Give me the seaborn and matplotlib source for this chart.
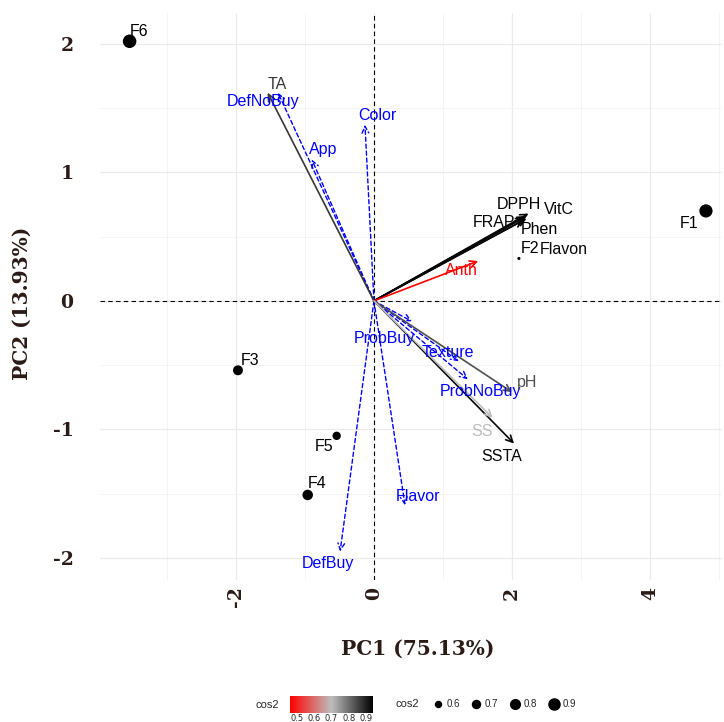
import numpy as np
import pandas as pd
import matplotlib
matplotlib.use("Agg")
import matplotlib.pyplot as plt
from matplotlib.colors import LinearSegmentedColormap, Normalize
from matplotlib.cm import ScalarMappable
from matplotlib.lines import Line2D
import seaborn as sns

# individuals (coordinates on PC1 / PC2 and quality of representation)
ind_names = ["F1", "F2", "F3", "F4", "F5", "F6"]
ind_pc1 = [4.81, 2.10, -1.97, -0.96, -0.54, -3.54]
ind_pc2 = [0.70, 0.33, -0.54, -1.51, -1.05, 2.02]
ind_cos2 = [0.91, 0.50, 0.72, 0.75, 0.65, 0.93]

# active variables
var_names = ["DPPH", "VitC", "FRAP", "Phen", "Flavon", "Anth", "TA", "pH", "SSTA", "SS"]
var_pc1 = [2.20, 2.24, 2.18, 2.21, 2.17, 1.51, -1.54, 2.00, 2.03, 1.72]
var_pc2 = [0.66, 0.68, 0.65, 0.64, 0.63, 0.31, 1.62, -0.71, -1.11, -0.91]
var_cos2 = [0.94, 0.93, 0.93, 0.94, 0.93, 0.46, 0.87, 0.84, 0.93, 0.70]

# supplementary variables
sup_names = ["DefNoBuy", "App", "Color", "ProbBuy", "Texture", "ProbNoBuy", "Flavor", "DefBuy"]
sup_pc1 = [-1.39, -0.90, -0.13, 0.55, 1.23, 1.36, 0.45, -0.49]
sup_pc2 = [1.62, 1.10, 1.37, -0.16, -0.47, -0.61, -1.59, -1.95]

# label offsets (points) mimicking the repelled labels
ind_off = {"F1": (-12, -9), "F2": (8, 7), "F3": (9, 7), "F4": (7, 8), "F5": (-9, -8), "F6": (7, 7)}
var_off = {"DPPH": (-5, 8), "VitC": (22, 3), "FRAP": (-22, -4), "Phen": (9, -8), "Flavon": (29, -21),
           "Anth": (-12, -7), "TA": (7, 6), "pH": (11, 7), "SSTA": (-9, -9), "SS": (-8, -10)}
sup_off = {"DefNoBuy": (-11, -6), "App": (8, 7), "Color": (9, 7), "ProbBuy": (-20, -12),
           "Texture": (-8, 6), "ProbNoBuy": (9, -9), "Flavor": (9, 6), "DefBuy": (-9, -9)}

sns.set_theme(style="whitegrid")
serif = {"family": "DejaVu Serif", "weight": "bold", "color": "#2b1b17"}
sans = "Liberation Sans"
lab_size = 11.5

cmap = LinearSegmentedColormap.from_list("cos2", ["#ff0000", "#bebebe", "#000000"])
norm = Normalize(0.46, 0.94)
size_range = (5, 95)
size_norm = (0.5, 0.93)

def size_of(c):
    t = (c - size_norm[0]) / (size_norm[1] - size_norm[0])
    return size_range[0] + t * (size_range[1] - size_range[0])

fig = plt.figure(figsize=(7.24, 7.22), dpi=100)
ax = fig.add_axes([0.138, 0.197, 0.859, 0.785])

ind = pd.DataFrame({"name": ind_names, "PC1": ind_pc1, "PC2": ind_pc2, "cos2": ind_cos2})
sns.scatterplot(data=ind, x="PC1", y="PC2", size="cos2", sizes=size_range, size_norm=size_norm,
                color="black", edgecolor="none", legend=False, ax=ax, zorder=4)
for _, r in ind.iterrows():
    ax.annotate(r["name"], (r["PC1"], r["PC2"]), xytext=ind_off[r["name"]], textcoords="offset points",
                ha="center", va="center", fontsize=lab_size, family=sans, color="black", zorder=5)

ax.axhline(0, color="black", ls=(0, (4, 3)), lw=0.8, zorder=1)
ax.axvline(0, color="black", ls=(0, (4, 3)), lw=0.8, zorder=1)

for n, x, y in zip(sup_names, sup_pc1, sup_pc2):
    ax.annotate("", xy=(x, y), xytext=(0, 0),
                arrowprops=dict(arrowstyle="->,head_length=0.4,head_width=0.2", color="#0000ff",
                                lw=1.0, ls=(0, (3, 2)), shrinkA=0, shrinkB=0), zorder=2)
    ax.annotate(n, (x, y), xytext=sup_off[n], textcoords="offset points", ha="center", va="center",
                fontsize=lab_size, family=sans, color="#0000ff", zorder=5)

for n, x, y, c in zip(var_names, var_pc1, var_pc2, var_cos2):
    col = cmap(norm(c))
    ax.annotate("", xy=(x, y), xytext=(0, 0),
                arrowprops=dict(arrowstyle="->,head_length=0.4,head_width=0.2", color=col,
                                lw=1.2, shrinkA=0, shrinkB=0), zorder=3)
    ax.annotate(n, (x, y), xytext=var_off[n], textcoords="offset points", ha="center", va="center",
                fontsize=lab_size, family=sans, color=col, zorder=5)

ax.set_xlim(-3.97, 5.04)
ax.set_ylim(-2.17, 2.24)
ax.set_xticks([-2, 0, 2, 4])
ax.set_yticks([-2, -1, 0, 1, 2])
ax.set_xticks([-3, -1, 1, 3, 5], minor=True)
ax.set_yticks([-1.5, -0.5, 0.5, 1.5], minor=True)
ax.grid(which="major", color="#ebebeb", lw=0.9)
ax.grid(which="minor", color="#f3f3f3", lw=0.6)
for s in ax.spines.values():
    s.set_visible(False)
ax.tick_params(which="major", length=3, width=0.6, color="#555555")
ax.tick_params(axis="y", pad=16)
ax.tick_params(axis="x", pad=2)
ax.tick_params(which="minor", length=0)
ax.set_xticklabels(["-2", "0", "2", "4"], rotation=90, fontdict={**serif, "size": 13.5})
ax.set_yticklabels(["-2", "-1", "0", "1", "2"], fontdict={**serif, "size": 13.5})

ax.set_xlabel("PC1 (75.13%)", fontdict={**serif, "size": 14.5})
ax.set_ylabel("PC2 (13.93%)", fontdict={**serif, "size": 14.5})
ax.xaxis.set_label_coords(0.511, -0.105)
ax.yaxis.set_label_coords(-0.11, 0.487)

# colour legend
cax = fig.add_axes([290 / 724, 1 - 713 / 722, 83 / 724, 17 / 722])
cb = fig.colorbar(ScalarMappable(norm=norm, cmap=cmap), cax=cax, orientation="horizontal")
cb.set_ticks([0.5, 0.6, 0.7, 0.8, 0.9])
cb.ax.tick_params(labelsize=6, length=0, pad=1)
cb.outline.set_visible(False)
fig.text(255 / 724, 1 - 705 / 722, "cos2", fontsize=8, family=sans, va="center")

# size legend
levels = [0.6, 0.7, 0.8, 0.9]
handles = [Line2D([], [], ls="", marker="o", color="black", markersize=0.85 * np.sqrt(size_of(v)))
           for v in levels]
fig.text(395 / 724, 1 - 704 / 722, "cos2", fontsize=8, family=sans, va="center")
fig.legend(handles, [str(v) for v in levels], ncol=4, loc="center left",
           bbox_to_anchor=(423 / 724, 1 - 704 / 722), frameon=False,
           handletextpad=0.3, columnspacing=1.1, handlelength=1.2,
           prop={"family": sans, "size": 7})

fig.savefig("out.png", dpi=100)
